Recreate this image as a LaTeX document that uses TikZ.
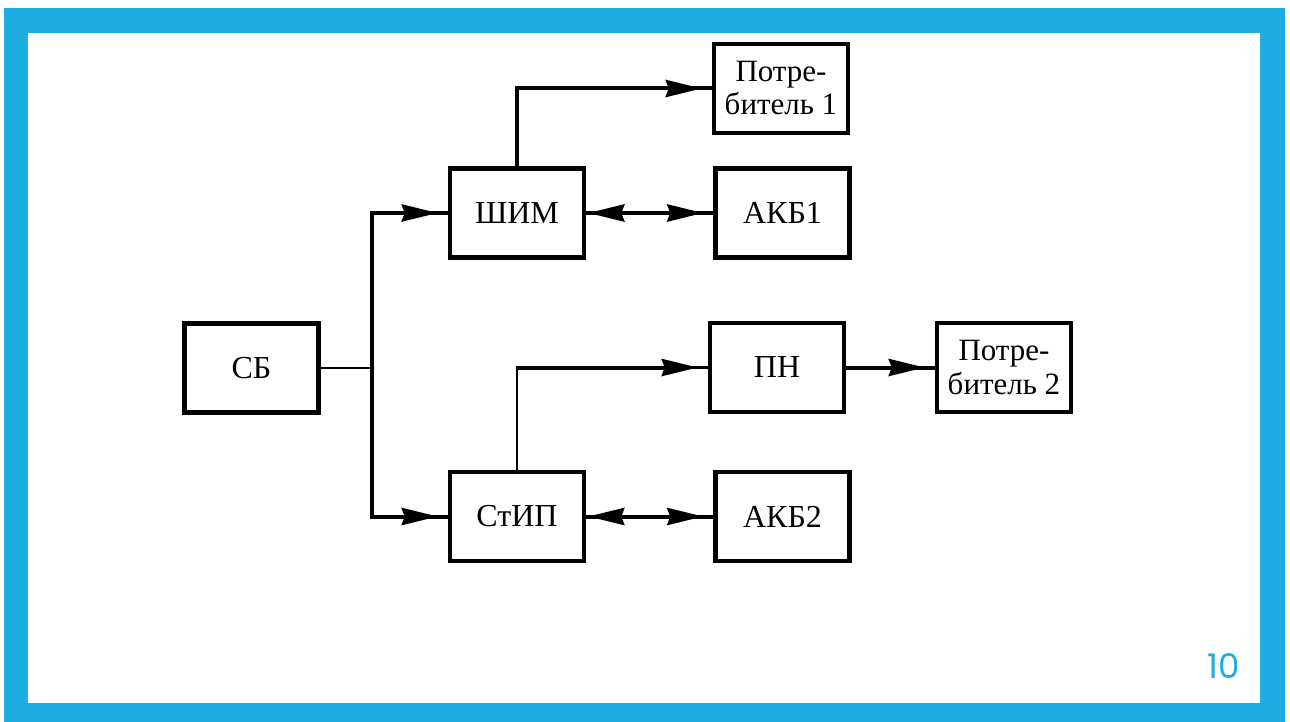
\documentclass[tikz,border=0pt]{standalone}
\usepackage{fontspec}
\setmainfont{Liberation Serif}
\newfontfamily\numfont{Poppins}
\usetikzlibrary{arrows.meta}
\definecolor{frameblue}{RGB}{30,173,226}
\begin{document}
\begin{tikzpicture}[x=1pt,y=-1pt,
  box/.style={draw, line width=4.5pt, inner sep=0pt, align=center,
    minimum width=134pt, minimum height=89pt, font=\fontsize{32}{36}\selectfont},
  box2/.style={box, font=\fontsize{31}{33}\selectfont},
  wire/.style={line width=4pt},
  thinwire/.style={line width=2.2pt},
  tipto/.style={-{Stealth[length=36pt,width=17pt,inset=3pt]}, line width=4pt, shorten >=#1},
  tipto/.default=10pt]
\useasboundingbox (0,0) rectangle (1290,722);
\fill[white] (0,0) rectangle (1290,722);
\fill[frameblue] (4,8) rectangle (1285,722);
\fill[white] (28,33) rectangle (1260,703);
\node[text=frameblue, font=\numfont\fontsize{34}{36}\selectfont] (pg) at (1224,666) {10};

\node[box2] (P1) at (781,88.5) {Потре-\\битель 1};
\node[box] (SHIM) at (517,213) {ШИМ};
\node[box] (AKB1) at (782.5,213) {АКБ1};
\node[box] (SB) at (251.5,368) {СБ};
\node[box] (PN) at (777,367.5) {ПН};
\node[box2] (P2) at (1004,367.5) {Потре-\\битель 2};
\node[box] (STIP) at (517,516.5) {СтИП};
\node[box] (AKB2) at (782.5,516.5) {АКБ2};

\coordinate (J) at (372,368);
\coordinate (J1) at (372,213);
\coordinate (J2) at (372,516.5);
\coordinate (K1) at (517,88.5);
\coordinate (K2) at (517,367.5);
\coordinate (M1) at (650,213);
\coordinate (M2) at (650,516.5);

% SB to junction
\draw[thinwire] (SB.east) -- (J);
% bus and branches
\draw[wire] (SHIM.west) -- (J1) -- (J2) -- (STIP.west);
\draw[tipto] (J1) -- (SHIM.west);
\draw[tipto] (J2) -- (STIP.west);
% SHIM to consumer 1
\draw[wire] (SHIM.north) -- (K1) -- (P1.west);
\draw[tipto] (K1) -- (P1.west);
% SHIM <-> AKB1
\draw[wire] (SHIM.east) -- (AKB1.west);
\draw[tipto=2pt] (M1) -- (SHIM.east);
\draw[tipto] (M1) -- (AKB1.west);
% STIP to PN
\draw[thinwire] (STIP.north) -- (K2) -- (PN.west);
\draw[tipto] (K2) -- (PN.west);
% PN to consumer 2
\draw[wire] (PN.east) -- (P2.west);
\draw[tipto] (PN.east) -- (P2.west);
% STIP <-> AKB2
\draw[wire] (STIP.east) -- (AKB2.west);
\draw[tipto=2pt] (M2) -- (STIP.east);
\draw[tipto] (M2) -- (AKB2.west);
\end{tikzpicture}
\end{document}
